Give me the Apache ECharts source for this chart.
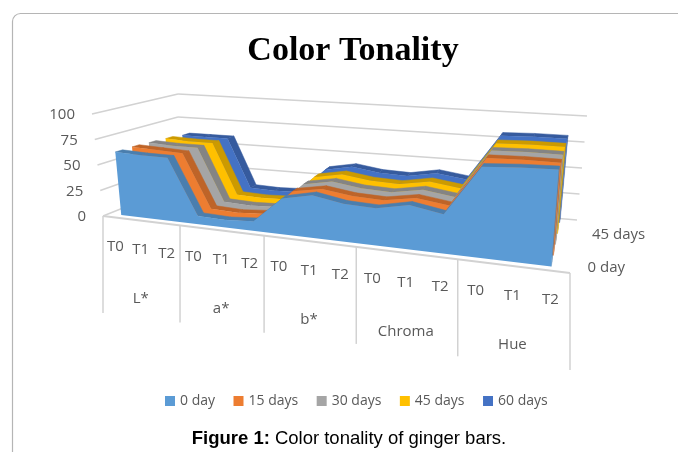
<!DOCTYPE html>
<html><head><meta charset="utf-8">
<style>html,body{margin:0;padding:0;background:#fff}#c{width:678px;height:452px}</style>
<script src="https://cdn.jsdelivr.net/npm/echarts@6/dist/echarts.min.js"></script></head>
<body><div id="c"></div>
<script>
var groups = ['L*','a*','b*','Chroma','Hue'];
var treatments = ['T0','T1','T2'];
var seriesNames = ['0 day','15 days','30 days','45 days','60 days'];
var depthLabels = ['0 day','45 days'];
var valueTicks = [0,25,50,75,100];
var day0  = [62,61,61, 8,7,9, 33,39,34, 33,39,34, 78,80,81];
var day15 = [62,61,60, 8,7,9, 33,38,34, 33,38,34, 79,80,80];
var day30 = [61,60,60, 8,7,8, 33,38,34, 33,38,34, 79,80,80];
var day45 = [60,59,59, 8,7,8, 33,38,34, 33,38,34, 79,80,80];
var day60 = [58,58,58, 8,7,8, 33,38,34, 33,38,34, 79,80,80];
var allDays = [day0,day15,day30,day45,day60];
var colors = ['#5B9BD5','#ED7D31','#A5A5A5','#FFC000','#4472C4'];
var topColors = ['#4A7EAE','#BE6428','#848484','#CC9A00','#365B9E'];
var categories = [];
groups.forEach(function(g){treatments.forEach(function(t){categories.push(g+' '+t);});});

var W=678,H=452,K=1.266;
var C={FLB:[103,216],FLT:[92,114],BLB:[178,186],BLT:[178,94],FRB:[570,273],FRT:[580,151],BRB:[577,220],BRT:[587,116]};
function warp(u){return u/(K-(K-1)*u);}
function lerp(a,b,t){return [a[0]+(b[0]-a[0])*t,a[1]+(b[1]-a[1])*t];}
function proj(u,v,w){
  var t=warp(u);
  var fb=lerp(C.FLB,C.FRB,t),ft=lerp(C.FLT,C.FRT,t),bb=lerp(C.BLB,C.BRB,t),bt=lerp(C.BLT,C.BRT,t);
  return lerp(lerp(fb,ft,v),lerp(bb,bt,v),w);
}
var W0=0.08,STEP=0.21,TH=0.09;
function uv(api,i,val){var p=api.coord([i,val]);return [p[0]/W,1-p[1]/H];}
function renderArea(s){
  return function(params,api){
    if(params.dataIndex!==0)return null;
    var vals=allDays[s],n=vals.length,wf=W0+s*STEP,wb=wf+TH;
    var front=[],tops=[],i;
    for(i=0;i<n;i++){var q=uv(api,i,vals[i]);front.push(proj(q[0],q[1],wf));}
    var b0=uv(api,0,0),bn=uv(api,n-1,0);
    var poly=[proj(b0[0],0,wf)].concat(front,[proj(bn[0],0,wf)]);
    for(i=0;i<n-1;i++){
      var a=uv(api,i,vals[i]),b=uv(api,i+1,vals[i+1]);
      tops.push({type:'polygon',shape:{points:[proj(a[0],a[1],wf),proj(b[0],b[1],wf),proj(b[0],b[1],wb),proj(a[0],a[1],wb)]},
        style:{fill:topColors[s],stroke:topColors[s],lineWidth:0.5}});
    }
    var e=uv(api,n-1,vals[n-1]);
    var side={type:'polygon',shape:{points:[proj(e[0],0,wf),proj(e[0],0,wb),proj(e[0],e[1],wb),proj(e[0],e[1],wf)]},
      style:{fill:topColors[s],stroke:topColors[s],lineWidth:0.3}};
    var face={type:'polygon',shape:{points:poly},style:{fill:colors[s]}};
    return {type:'group',children:tops.concat([side,face])};
  };
}
var gridCol='#D2D2D2',txt='#595959';
function label(x,y,t,size,align){return {type:'text',style:{x:x,y:y,text:t,fill:txt,fontSize:size,fontFamily:'Open Sans',align:align||'center',verticalAlign:'middle'}};}
function line(a,b,w){return {type:'line',shape:{x1:a[0],y1:a[1],x2:b[0],y2:b[1]},style:{stroke:gridCol,lineWidth:w||1.5}};}
function renderWalls(params,api){
  if(params.dataIndex!==0)return null;
  var ch=[];
  valueTicks.forEach(function(tk){
    var v=uv(api,0,tk)[1];
    ch.push(line(proj(0,v,0),proj(0,v,1)));
    ch.push(line(proj(0,v,1),proj(1,v,1)));
  });
  return {type:'group',children:ch};
}
function renderAxes(params,api){
  if(params.dataIndex!==0)return null;
  var ch=[],n=categories.length;
  ch.push(line(proj(0,0,0),proj(1,0,0),2));
  for(var g=0;g<=groups.length;g++){
    var p=proj(g*3/n,0,0);
    ch.push(line(p,[p[0],p[1]+97]));
  }
  for(var i=0;i<n;i++){
    var c=uv(api,i,0),q=proj(c[0],0,0);
    ch.push(label(q[0],q[1]+29.5,treatments[i%3],15));
    if(i%3===1)ch.push(label(q[0],q[1]+78.5,groups[(i-1)/3],15));
  }
  valueTicks.forEach(function(tk){
    var v=uv(api,0,tk)[1],p=proj(0,v,0);
    ch.push(label(p[0]-17,p[1]+1,String(tk),15,'right'));
  });
  depthLabels.forEach(function(d){
    var s=seriesNames.indexOf(d),p=proj(1,0,W0+s*STEP);
    ch.push(label(p[0]+17,p[1]-1,d,15,'left'));
  });
  return {type:'group',children:ch};
}
var series=seriesNames.map(function(name,s){
  return {type:'custom',name:name,coordinateSystem:'cartesian2d',z:20-s,silent:true,clip:false,
    itemStyle:{color:colors[s]},renderItem:renderArea(s),
    data:allDays[s].map(function(v,i){return [i,v];}),encode:{x:0,y:1}};
});
series.push({type:'custom',name:'walls',coordinateSystem:'cartesian2d',z:5,silent:true,clip:false,renderItem:renderWalls,data:[[0,0]],encode:{x:0,y:1}});
series.push({type:'custom',name:'axes',coordinateSystem:'cartesian2d',z:30,silent:true,clip:false,renderItem:renderAxes,data:[[0,0]],encode:{x:0,y:1}});
var chart=echarts.init(document.getElementById('c'),null,{renderer:'canvas',width:W,height:H});
chart.setOption({
  animation:false,backgroundColor:'#fff',
  grid:{left:0,right:0,top:0,bottom:0,containLabel:false},
  xAxis:{type:'category',data:categories,show:false},
  yAxis:{type:'value',min:0,max:100,interval:25,show:false},
  title:[
    {text:'Color Tonality',left:353,top:34,padding:0,textAlign:'center',textStyle:{fontFamily:'Liberation Serif',fontWeight:'bold',fontSize:34,color:'#000'}},
    {text:'{b|Figure 1:} {n|Color tonality of ginger bars.}',left:349,top:429,padding:0,textAlign:'center',
     textStyle:{fontWeight:'normal',rich:{b:{fontFamily:'Liberation Sans',fontWeight:'bold',fontSize:18.5,color:'#000'},n:{fontFamily:'Liberation Sans',fontWeight:'normal',fontSize:18.5,color:'#000'}}}}
  ],
  legend:{data:seriesNames,left:165,top:394,padding:0,icon:'rect',itemWidth:10,itemHeight:10,itemGap:18.5,selectedMode:false,
    textStyle:{fontFamily:'Open Sans',fontSize:14,color:txt}},
  graphic:[{type:'rect',z:-1,shape:{x:12.5,y:13.5,width:720,height:520,r:8},style:{fill:'none',stroke:'#B5B5B5',lineWidth:1.2}}],
  series:series
});
</script></body></html>
